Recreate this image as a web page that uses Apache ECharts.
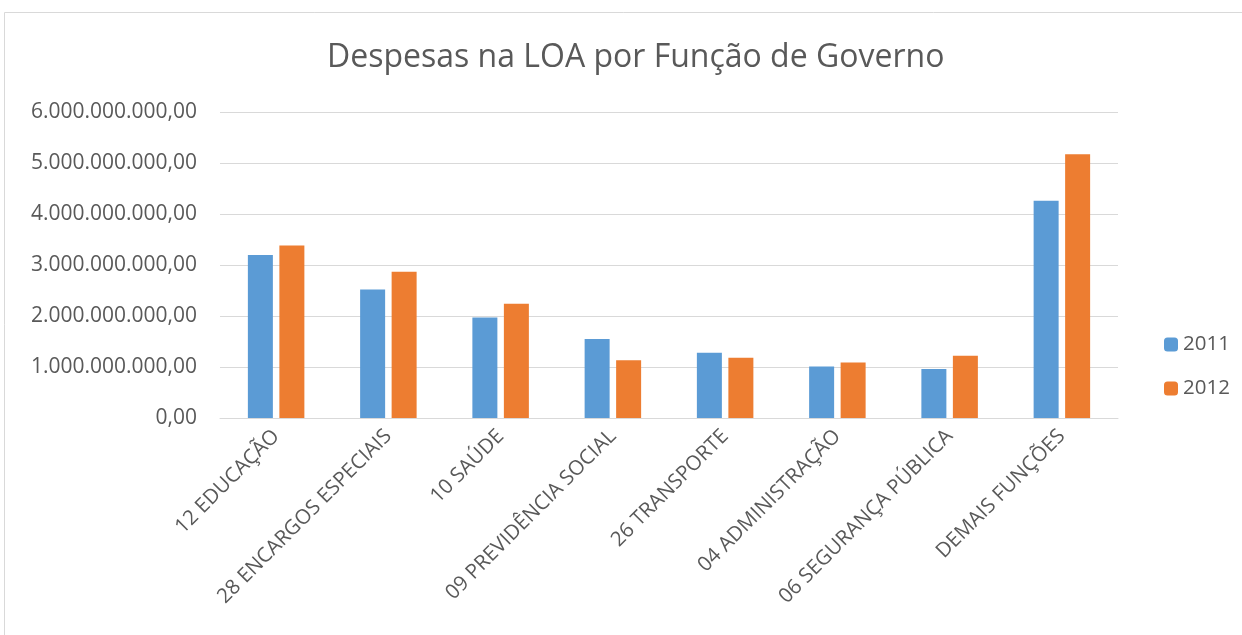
<!DOCTYPE html>
<html>
<head>
<meta charset="utf-8">
<script src="https://cdn.jsdelivr.net/npm/echarts@6/dist/echarts.min.js"></script>
<style>
html,body{margin:0;padding:0;background:#fff;}
#main{width:1242px;height:635px;}
</style>
</head>
<body>
<div id="main"></div>
<script>
var categorias = ['12 EDUCAÇÃO','28 ENCARGOS ESPECIAIS','10 SAÚDE','09 PREVIDÊNCIA SOCIAL','26 TRANSPORTE','04 ADMINISTRAÇÃO','06 SEGURANÇA PÚBLICA','DEMAIS FUNÇÕES'];
var valores2011 = [3196000000, 2520000000, 1970000000, 1550000000, 1280000000, 1010000000, 960000000, 4260000000];
var valores2012 = [3380000000, 2870000000, 2240000000, 1130000000, 1180000000, 1090000000, 1220000000, 5170000000];
var anos = ['2011','2012'];

function formataBR(v){
	var s = Math.round(v).toString();
	var partes = [];
	while(s.length > 3){
		partes.unshift(s.slice(-3));
		s = s.slice(0, -3);
	}
	partes.unshift(s);
	return partes.join('.') + ',00';
}

var fonte = '"Open Sans", sans-serif';
var myChart = echarts.init(document.getElementById('main'));
var option = {
	backgroundColor: '#fff',
	animation: false,
	title: {
		text: 'Despesas na LOA por Função de Governo',
		left: 322,
		top: 37,
		textStyle: { fontFamily: fonte, fontSize: 32, fontWeight: 'normal', color: '#595959' }
	},
	graphic: [{
		type: 'rect',
		shape: { x: 4.5, y: 12.5, width: 1250, height: 640 },
		style: { fill: 'none', stroke: '#d9d9d9', lineWidth: 1 },
		silent: true
	}],
	legend: {
		data: anos,
		orient: 'vertical',
		left: 1159,
		top: 329,
		itemWidth: 14,
		itemHeight: 14,
		itemGap: 23,
		textStyle: { fontFamily: fonte, fontSize: 20.5, color: '#595959' }
	},
	grid: { left: 220, right: 124, top: 112, bottom: 217 },
	xAxis: {
		type: 'category',
		data: categorias,
		axisTick: { show: false },
		axisLine: { lineStyle: { color: '#d9d9d9', width: 1 } },
		axisLabel: { rotate: 45, interval: 0, margin: 15, fontFamily: fonte, fontSize: 20.5, color: '#595959' }
	},
	yAxis: {
		type: 'value',
		min: 0,
		max: 6000000000,
		interval: 1000000000,
		axisLine: { show: false },
		axisTick: { show: false },
		splitLine: { lineStyle: { color: '#d9d9d9', width: 1 } },
		axisLabel: { margin: 23, fontFamily: fonte, fontSize: 21, color: '#595959', formatter: formataBR }
	},
	series: [{
		name: anos[0],
		type: 'bar',
		data: valores2011,
		barWidth: 25,
		barGap: '26%',
		itemStyle: { color: '#5b9bd5' }
	},{
		name: anos[1],
		type: 'bar',
		data: valores2012,
		barWidth: 25,
		itemStyle: { color: '#ed7d31' }
	}]
};
myChart.setOption(option);
</script>
</body>
</html>
